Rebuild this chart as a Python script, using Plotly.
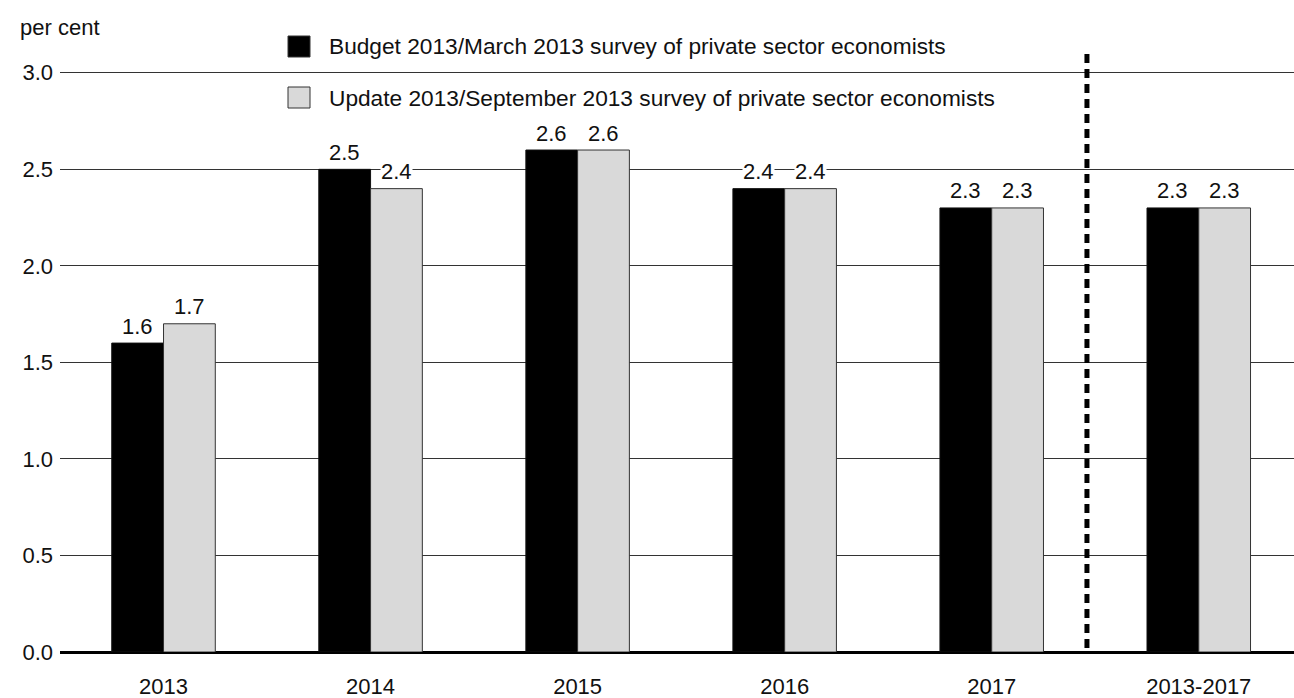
import plotly.graph_objects as go

categories = ["2013", "2014", "2015", "2016", "2017", "2013-2017"]
budget_2013 = [1.6, 2.5, 2.6, 2.4, 2.3, 2.3]
update_2013 = [1.7, 2.4, 2.6, 2.4, 2.3, 2.3]
series_names = [
    "Budget 2013/March 2013 survey of private sector economists",
    "Update 2013/September 2013 survey of private sector economists",
]
y_ticks = [0.0, 0.5, 1.0, 1.5, 2.0, 2.5, 3.0]
y_label = "per cent"

FONT = "Liberation Sans, Arial, Helvetica, sans-serif"
FS = 22
FS_LEG = 22.7
BLACK = "#000000"
GREY = "#d9d9d9"

W, H = 1294, 698
ML, MR, MT, MB = 60, 0, 67, 46
PW, PH = W - ML - MR, H - MT - MB


def px(xp):
    return (xp - ML) / PW


def py(yp):
    return (H - MB - yp) / PH


fig = go.Figure()
fig.add_trace(go.Bar(x=categories, y=budget_2013, name=series_names[0],
                     marker=dict(color=BLACK, line=dict(color="#111", width=1)),
                     showlegend=False))
fig.add_trace(go.Bar(x=categories, y=update_2013, name=series_names[1],
                     marker=dict(color=GREY, line=dict(color="#333", width=1)),
                     showlegend=False))

annotations = []
half = 0.125
for i, (a, b) in enumerate(zip(budget_2013, update_2013)):
    for off, v in ((-half, a), (half, b)):
        annotations.append(dict(x=i + off, y=v, xref="x", yref="y",
                                text=f"{v:.1f}", showarrow=False,
                                yanchor="middle", yshift=17,
                                bgcolor="white", borderpad=0,
                                font=dict(family=FONT, size=FS, color="#111")))

# axis title
annotations.append(dict(x=px(18), y=py(27), xref="paper", yref="paper",
                        text=y_label, showarrow=False, xanchor="left", yanchor="middle",
                        font=dict(family=FONT, size=FS, color="#111")))

# custom legend
leg_y = [46.5, 97.5]
colors = [BLACK, GREY]
shapes = []
for name, yc, col in zip(series_names, leg_y, colors):
    shapes.append(dict(type="rect", xref="paper", yref="paper",
                       x0=px(288), x1=px(310),
                       y0=py(yc + 10.5), y1=py(yc - 10.5),
                       fillcolor=col, line=dict(color="#333", width=1)))
    annotations.append(dict(x=px(327), y=py(yc), xref="paper", yref="paper",
                            text=name, showarrow=False, xanchor="left", yanchor="middle",
                            font=dict(family=FONT, size=FS_LEG, color="#111")))

# separator between annual and average
shapes.append(dict(type="line", xref="x", yref="paper", x0=4.46, x1=4.46,
                   y0=py(648), y1=py(48),
                   line=dict(color=BLACK, width=5, dash="9px,6px")))

fig.update_layout(
    width=W, height=H,
    margin=dict(l=ML, r=MR, t=MT, b=MB, pad=0),
    paper_bgcolor="white", plot_bgcolor="white",
    barmode="group", bargap=0.5, bargroupgap=0,
    font=dict(family=FONT, size=FS, color="#111"),
    annotations=annotations, shapes=shapes,
    xaxis=dict(type="category", range=[-0.5, 5.46], showgrid=False,
               ticks="", ticklabelstandoff=19, tickfont=dict(size=FS),
               showline=False, zeroline=False),
    yaxis=dict(range=[0, 3.03], tickvals=y_ticks, ticktext=[f"{t:.1f}" for t in y_ticks],
               showgrid=True, gridcolor="#333", gridwidth=1.3,
               zeroline=True, zerolinecolor=BLACK, zerolinewidth=2.5,
               ticks="", ticklabelstandoff=6, tickfont=dict(size=FS), showline=False),
)

fig.write_html("out.html", config={"displayModeBar": False},
               post_script="document.body.style.margin='0';document.body.style.overflow='hidden';")
